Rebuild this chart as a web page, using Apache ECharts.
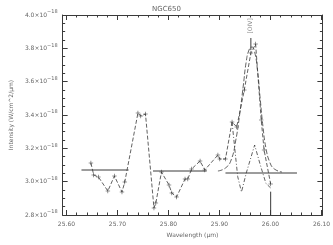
<!DOCTYPE html>
<html><head><meta charset="utf-8">
<script src="https://cdn.jsdelivr.net/npm/echarts@6/dist/echarts.min.js"></script>
<style>html,body{margin:0;padding:0;background:#fff}#c{width:333px;height:245px}</style>
</head><body><div id="c"></div>
<script>
// wavelength (um), flux (1e-18 W/cm^2/um)
const dataWl   = [25.6480,25.6535,25.6627,25.6812,25.6941,25.7089,25.7144,25.7402,25.7458,25.7550,25.7716,25.7753,25.7863,25.8011,25.8066,25.8159,25.8325,25.8380,25.8454,25.8620,25.8712,25.8970,25.9007,25.9118,25.9247,25.9339,25.9487,25.9616,25.9709,25.9819,25.9875,26.0004];
const dataFlux = [3.112,3.040,3.028,2.944,3.034,2.938,2.998,3.412,3.394,3.406,2.842,2.872,3.058,2.980,2.932,2.908,3.016,3.016,3.076,3.124,3.070,3.160,3.136,3.136,3.358,3.328,3.550,3.772,3.826,3.370,3.190,2.986];
const fitWl    = [25.8970,25.9118,25.9229,25.9321,25.9395,25.9469,25.9524,25.9579,25.9635,25.9690,25.9745,25.9801,25.9856,25.9911,25.9985,26.0077,26.0225];
const fitFlux  = [3.064,3.082,3.130,3.250,3.400,3.580,3.718,3.790,3.808,3.778,3.670,3.490,3.322,3.202,3.118,3.076,3.058];
const resWl    = [25.9247,25.9303,25.9358,25.9432,25.9524,25.9690,25.9801,25.9911,26.0004];
const resFlux  = [3.358,3.190,3.030,2.938,3.050,3.220,3.100,2.990,2.962];
const contWl   = [[25.6295,25.7218],[25.7697,25.8749],[25.9118,26.0520]];
const contFlux = [[3.070,3.070],[3.064,3.064],[3.052,3.052]];
const lineWl = 25.9616, lineName = '[OIV]';
const markWl = 26.0004;
const xMajor = [25.60,25.70,25.80,25.90,26.00,26.10];
const xMinor = [25.62,25.64,25.66,25.68,25.72,25.74,25.76,25.78,25.82,25.84,25.86,25.88,25.92,25.94,25.96,25.98,26.02,26.04,26.06,26.08];

const zip = (a,b) => a.map((v,i)=>[v,b[i]]);
const C = '#3a3a3a', T = '#666', F = 'DejaVu Sans';
const plus = 'path://M-1,-0.12H1V0.12H-1Z M-0.12,-1H0.12V1H-0.12Z';
const X0 = 25.5926, X1 = 26.1018;
function xAx(pos, vals, len, labels, line){
  return {type:'value', position:pos, min:X0, max:X1, gridIndex:0,
    axisLine:{show:line, onZero:false, lineStyle:{color:C,width:1}},
    axisTick:{show:true, inside:true, length:len, customValues:vals, lineStyle:{color:C,width:1}},
    axisLabel:{show:labels, customValues:vals, formatter:v=>v.toFixed(2), fontSize:6, color:T, fontFamily:F, margin:6},
    splitLine:{show:false}};
}
const axes = [xAx('bottom',xMajor,5,true,true), xAx('bottom',xMinor,2.5,false,false), xAx('top',xMajor,5,false,true), xAx('top',xMinor,2.5,false,false)];
axes[0].name = 'Wavelength (μm)'; axes[0].nameLocation='middle'; axes[0].nameGap=17;
axes[0].nameTextStyle={fontSize:6,color:T,fontFamily:F};

const series = [];
series.push({type:'line', data:zip(dataWl,dataFlux), symbol:plus, symbolSize:4.5, itemStyle:{color:C},
  lineStyle:{color:C,width:0.8,type:[4,2]}, silent:true, animation:false});
series.push({type:'line', data:zip(fitWl,fitFlux), symbol:'none', smooth:true,
  lineStyle:{color:C,width:0.8,type:[5,2]}, animation:false});
series.push({type:'line', data:zip(resWl,resFlux), symbol:'none',
  lineStyle:{color:C,width:0.8,type:[4,2,1,2]}, animation:false});
contWl.forEach((w,i)=>series.push({type:'line', data:zip(w,contFlux[i]), symbol:'none',
  lineStyle:{color:C,width:1}, animation:false}));
series.push({type:'line', data:[[lineWl,3.862],[lineWl,3.79]], symbol:'none', lineStyle:{color:C,width:1}, animation:false});
series.push({type:'scatter', data:[[lineWl-0.0015,3.935]], symbolSize:0,
  label:{show:true, formatter:lineName, rotate:90, position:'inside', fontSize:6, color:T, fontFamily:F}, animation:false});
series.push({type:'line', data:[[markWl,2.94],[markWl,2.8]], symbol:'none', lineStyle:{color:C,width:1}, animation:false});

const yAx = (pos, labels) => ({type:'value', position:pos, min:2.8, max:4.0, interval:0.2,
  axisLine:{show:true, lineStyle:{color:C,width:1}},
  axisTick:{show:true, inside:true, length:5, lineStyle:{color:C,width:1}},
  minorTick:{show:true, splitNumber:4, length:2.5, lineStyle:{color:C,width:1}},
  axisLabel:{show:labels, fontSize:6, color:T, fontFamily:F, margin:5,
    formatter:v=>'{a|'+v.toFixed(1)+'×10}{b|−18}',
    rich:{a:{fontSize:6,color:T,fontFamily:F}, b:{fontSize:5,color:T,fontFamily:F,padding:[0,0,6,0]}}},
  splitLine:{show:false}});
const yL = yAx('left', true);
yL.name = 'Intensity (W/cm^2/μm)'; yL.nameLocation='middle'; yL.nameGap=36; yL.nameRotate=90;
yL.nameTextStyle={fontSize:6,color:T,fontFamily:F};

const chart = echarts.init(document.getElementById('c'), null, {renderer:'canvas'});
chart.setOption({
  animation:false,
  title:{text:'NGC650', left:'center', top:1, textStyle:{fontSize:7,color:T,fontFamily:F,fontWeight:'normal'}},
  grid:{left:47, right:10, top:15, bottom:30},
  xAxis:axes,
  yAxis:[yL, yAx('right', false)],
  series:series.map(s=>Object.assign({xAxisIndex:0,yAxisIndex:0},s))
});
</script></body></html>
